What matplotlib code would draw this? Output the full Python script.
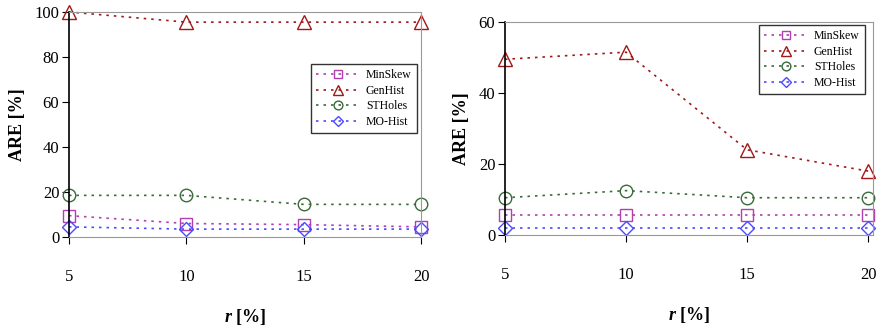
import matplotlib
matplotlib.use("Agg")
import matplotlib.pyplot as plt

r_values = [5, 10, 15, 20]
series_names = ["MinSkew", "GenHist", "STHoles", "MO-Hist"]

left_minskew = [9.5, 6.0, 5.5, 4.5]
left_genhist = [100.0, 95.5, 95.5, 95.5]
left_stholes = [18.5, 18.5, 14.5, 14.5]
left_mohist = [4.5, 3.5, 3.5, 3.5]

right_minskew = [5.5, 5.5, 5.5, 5.5]
right_genhist = [49.5, 51.5, 24.0, 18.0]
right_stholes = [10.5, 12.5, 10.5, 10.5]
right_mohist = [2.0, 2.0, 2.0, 2.0]

left_yticks = [0, 20, 40, 60, 80, 100]
right_yticks = [0, 20, 40, 60]

colors = ["#B040B0", "#A01818", "#3A6A3A", "#4A4AFF"]
markers = ["s", "^", "o", "D"]
msizes = [9, 10, 9, 7]

plt.rcParams["font.family"] = ["Liberation Serif", "DejaVu Serif"]
plt.rcParams["mathtext.fontset"] = "custom"
plt.rcParams["mathtext.bfit"] = "Liberation Serif:italic:bold"
plt.rcParams["mathtext.rm"] = "Liberation Serif"

fig = plt.figure(figsize=(8.77, 3.27), dpi=100)
W, H = 877, 327

def make_ax(x0, x1, y0, y1):
    return fig.add_axes([x0 / W, (H - y1) / H, (x1 - x0) / W, (y1 - y0) / H])

axL = make_ax(69, 421, 12, 237)
axR = make_ax(505, 873, 22, 235)

def draw(ax, data, ylim, yticks, xmax, legend_bbox):
    for vals, name, c, m, ms in zip(data, series_names, colors, markers, msizes):
        ax.plot(r_values, vals, linestyle=(0, (1.5, 3)), color=c, lw=1.2,
                marker=m, markersize=ms, markerfacecolor="none",
                markeredgecolor=c, markeredgewidth=1.0, label=name, clip_on=False)
    ax.set_xlim(5, xmax)
    ax.set_ylim(*ylim)
    ax.set_xticks(r_values)
    ax.set_yticks(yticks)
    ax.tick_params(axis="x", direction="out", length=5, pad=18, labelsize=12, color="black")
    ax.tick_params(axis="y", direction="out", length=5, pad=2, labelsize=12)
    for s in ["top", "right", "bottom"]:
        ax.spines[s].set_color("#999999")
    ax.spines["left"].set_color("black")
    ax.spines["left"].set_linewidth(1.2)
    ax.set_ylabel("ARE [%]", fontsize=13, fontweight="bold", labelpad=6)
    ax.set_xlabel(r"$\mathbfit{r}$ [%]", fontsize=13, fontweight="bold", labelpad=16)
    leg = ax.legend(loc="upper left", bbox_to_anchor=legend_bbox, fontsize=8.5,
                    frameon=True, fancybox=False, edgecolor="black",
                    handlelength=3.6, borderpad=0.45, labelspacing=0.3,
                    handletextpad=0.6, borderaxespad=0, markerscale=0.7)
    leg.get_frame().set_linewidth(1.0)

draw(axL, [left_minskew, left_genhist, left_stholes, left_mohist],
     (0, 100), left_yticks, 20, ((311 - 69) / 352, (237 - 64) / 225))
draw(axR, [right_minskew, right_genhist, right_stholes, right_mohist],
     (0, 60), right_yticks, 20.2, ((759 - 505) / 368, (235 - 25) / 213))

fig.savefig("out.png", dpi=100)
